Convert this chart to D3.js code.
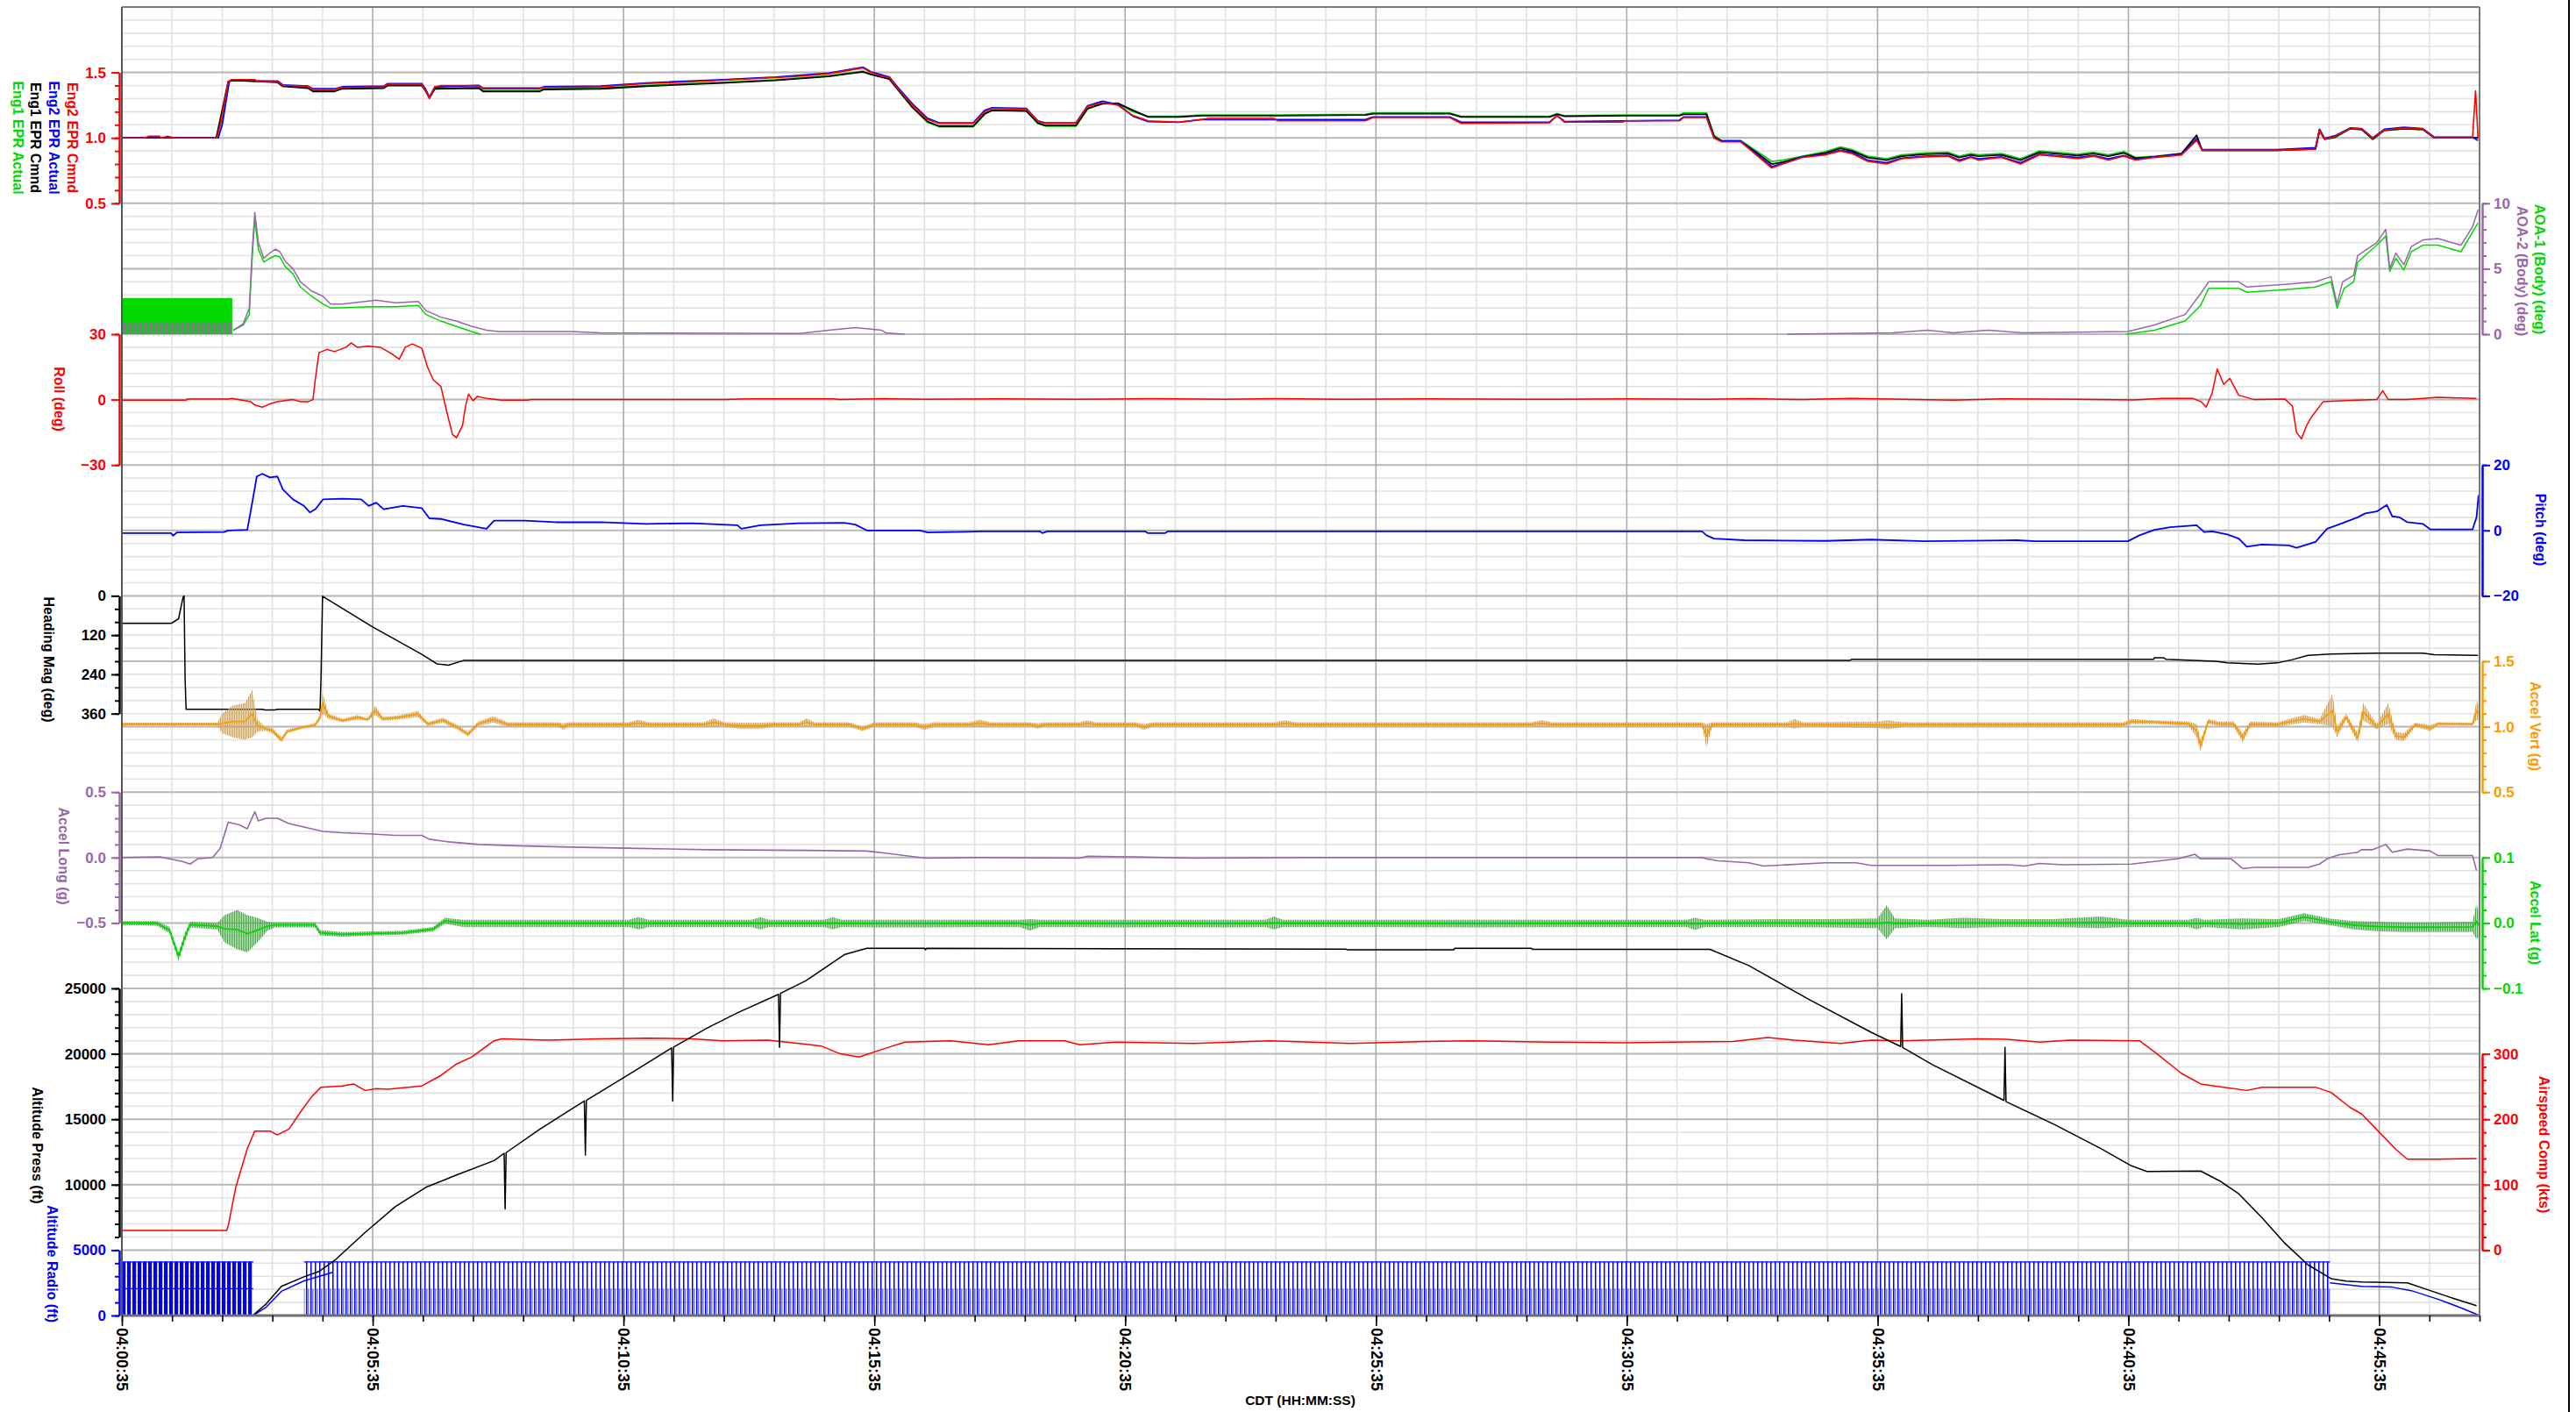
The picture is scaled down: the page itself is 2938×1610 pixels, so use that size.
<!DOCTYPE html>
<html><head><meta charset="utf-8">
<script src="https://cdn.jsdelivr.net/npm/d3@7"></script>
<style>
body{margin:0;background:#fff}
svg{display:block}
text{font-family:"Liberation Sans",Arial,sans-serif;font-weight:bold}
</style>
</head><body>
<svg id="chart" width="2938" height="1610"></svg>
<script>
// ---------------- DATA (time = minutes after 04:00:35) ----------------
const xTickLabels = ["04:00:35","04:05:35","04:10:35","04:15:35","04:20:35","04:25:35","04:30:35","04:35:35","04:40:35","04:45:35"];
const xTickMinutes = [0,5,10,15,20,25,30,35,40,45];
const timeDomain = [0, 47];

const eng2EprCmnd = [[0,1.0],[0.45,1.0],[0.53,1.012],[0.75,1.012],[0.78,1.0],[0.9,1.012],[1.06,1.0],[1.89,1.0],[1.96,1.10],[2.12,1.43],[2.19,1.445],[2.65,1.445],[2.68,1.43],[3.1,1.43],[3.21,1.40],[3.71,1.395],[3.81,1.37],[4.24,1.37],[4.39,1.385],[5.22,1.39],[5.3,1.41],[5.98,1.41],[6.06,1.36],[6.13,1.30],[6.24,1.39],[6.36,1.40],[7.12,1.40],[7.2,1.375],[8.33,1.375],[8.41,1.385],[9.54,1.39],[10.45,1.415],[10.9,1.42],[11.97,1.44],[13.03,1.46],[13.49,1.47],[14.09,1.49],[14.4,1.51],[14.77,1.535],[14.93,1.50],[15.15,1.47],[15.3,1.46],[15.46,1.38],[15.76,1.25],[16.06,1.14],[16.29,1.11],[16.97,1.11],[17.2,1.20],[17.35,1.225],[18.03,1.22],[18.26,1.125],[18.41,1.11],[19.02,1.11],[19.25,1.24],[19.55,1.27],[19.85,1.25],[20.16,1.17],[20.46,1.13],[21.07,1.12],[21.52,1.14],[21.67,1.15],[22.96,1.15],[23.04,1.13],[24.79,1.13],[24.94,1.155],[26.47,1.155],[26.7,1.11],[28.46,1.115],[28.61,1.17],[28.76,1.12],[29.91,1.12],[29.98,1.13],[31.05,1.13],[31.13,1.155],[31.59,1.155],[31.74,1.0],[31.89,0.97],[32.27,0.97],[32.58,0.87],[32.89,0.77],[33.11,0.80],[33.5,0.85],[33.96,0.87],[34.26,0.90],[34.49,0.88],[34.8,0.82],[35.18,0.80],[35.48,0.84],[35.94,0.855],[36.4,0.86],[36.63,0.82],[36.86,0.85],[37.01,0.83],[37.47,0.85],[37.85,0.80],[38.23,0.87],[38.54,0.86],[38.99,0.84],[39.3,0.86],[39.6,0.83],[39.91,0.86],[40.14,0.83],[40.52,0.85],[41.06,0.87],[41.36,0.98],[41.47,0.905],[42.97,0.905],[43.73,0.915],[43.81,1.06],[43.91,0.99],[44.11,1.01],[44.42,1.07],[44.65,1.07],[44.87,0.995],[45.1,1.06],[45.49,1.075],[45.87,1.07],[46.1,1.0],[46.86,1.0],[46.92,1.36],[46.97,1.0]];

const eng2EprActual = [[0,1.0],[1.92,1.0],[2.0,1.1],[2.14,1.43],[2.2,1.445],[2.65,1.445],[2.68,1.435],[3.1,1.435],[3.21,1.405],[3.71,1.395],[3.81,1.375],[4.24,1.375],[4.39,1.39],[5.22,1.395],[5.3,1.415],[5.98,1.415],[6.06,1.37],[6.13,1.31],[6.24,1.39],[7.12,1.40],[7.2,1.38],[8.33,1.38],[8.41,1.39],[9.54,1.395],[10.45,1.42],[11.97,1.445],[13.03,1.465],[14.09,1.495],[14.77,1.54],[14.93,1.505],[15.3,1.465],[15.46,1.39],[15.76,1.26],[16.06,1.15],[16.29,1.115],[16.97,1.115],[17.2,1.21],[17.35,1.23],[18.03,1.225],[18.26,1.13],[18.41,1.115],[19.02,1.115],[19.25,1.245],[19.55,1.28],[19.85,1.255],[20.16,1.165],[20.46,1.125],[21.07,1.12],[21.52,1.14],[23.04,1.14],[24.79,1.14],[24.94,1.16],[26.47,1.16],[26.7,1.12],[28.46,1.12],[28.61,1.17],[28.76,1.125],[31.05,1.135],[31.13,1.16],[31.59,1.16],[31.74,1.0],[31.89,0.975],[32.27,0.975],[32.58,0.88],[32.89,0.78],[33.11,0.805],[33.5,0.855],[33.96,0.875],[34.26,0.905],[34.49,0.89],[34.8,0.83],[35.18,0.81],[35.48,0.845],[35.94,0.86],[36.4,0.865],[36.63,0.83],[36.86,0.855],[37.01,0.84],[37.47,0.855],[37.85,0.81],[38.23,0.875],[38.54,0.865],[38.99,0.85],[39.3,0.865],[39.6,0.84],[39.91,0.865],[40.14,0.835],[40.52,0.855],[41.06,0.875],[41.36,0.99],[41.47,0.91],[42.97,0.91],[43.73,0.925],[43.81,1.065],[43.91,0.995],[44.11,1.015],[44.42,1.075],[44.65,1.07],[44.87,1.0],[45.1,1.065],[45.49,1.08],[45.87,1.07],[46.1,1.005],[46.86,1.005],[46.97,0.98]];

const eng1EprCmnd = [[0,1.0],[1.88,1.0],[1.95,1.12],[2.12,1.43],[2.2,1.44],[3.1,1.425],[3.2,1.395],[3.71,1.38],[3.81,1.355],[4.24,1.355],[4.39,1.375],[5.22,1.38],[5.3,1.40],[5.98,1.40],[6.06,1.355],[6.13,1.305],[6.24,1.375],[7.12,1.38],[7.2,1.355],[8.33,1.355],[8.41,1.37],[9.54,1.375],[10.45,1.395],[11.97,1.42],[13.03,1.44],[14.09,1.47],[14.77,1.505],[14.93,1.485],[15.3,1.45],[15.46,1.375],[15.76,1.235],[16.06,1.125],[16.29,1.09],[16.97,1.09],[17.2,1.185],[17.35,1.21],[18.03,1.205],[18.26,1.115],[18.41,1.095],[19.02,1.095],[19.25,1.225],[19.55,1.26],[19.85,1.265],[20.16,1.21],[20.46,1.16],[21.07,1.16],[21.52,1.17],[23.04,1.17],[24.79,1.175],[24.94,1.185],[26.47,1.185],[26.7,1.16],[28.46,1.16],[28.61,1.18],[28.76,1.165],[29.98,1.17],[31.05,1.17],[31.13,1.18],[31.59,1.18],[31.74,1.01],[31.89,0.975],[32.27,0.975],[32.58,0.89],[32.89,0.80],[33.11,0.815],[33.5,0.855],[33.96,0.885],[34.26,0.92],[34.49,0.90],[34.8,0.85],[35.18,0.83],[35.48,0.86],[35.94,0.875],[36.4,0.88],[36.63,0.85],[36.86,0.87],[37.01,0.86],[37.47,0.87],[37.85,0.83],[38.23,0.89],[38.54,0.88],[38.99,0.865],[39.3,0.88],[39.6,0.86],[39.91,0.885],[40.14,0.845],[40.52,0.855],[41.06,0.88],[41.36,1.02],[41.47,0.905],[42.97,0.905],[43.73,0.915],[43.81,1.06],[43.91,0.99],[44.11,1.005],[44.42,1.07],[44.65,1.065],[44.87,0.99],[45.1,1.06],[45.49,1.07],[45.87,1.065],[46.1,1.0],[46.97,1.0]];

const eng1EprActual = [[0,1.0],[1.89,1.0],[1.98,1.12],[2.14,1.43],[2.2,1.44],[3.1,1.43],[3.2,1.40],[3.71,1.385],[3.81,1.36],[4.24,1.36],[4.39,1.38],[5.22,1.385],[5.3,1.405],[5.98,1.405],[6.06,1.36],[6.13,1.31],[6.24,1.38],[7.12,1.385],[7.2,1.36],[8.33,1.36],[8.41,1.375],[9.54,1.38],[10.45,1.40],[11.97,1.425],[13.03,1.445],[14.09,1.475],[14.77,1.51],[14.93,1.49],[15.3,1.45],[15.46,1.37],[15.76,1.23],[16.06,1.12],[16.29,1.085],[16.97,1.085],[17.2,1.18],[17.35,1.215],[18.03,1.21],[18.26,1.11],[18.41,1.09],[19.02,1.09],[19.25,1.22],[19.55,1.265],[19.85,1.26],[20.16,1.20],[20.46,1.165],[21.07,1.165],[21.52,1.175],[23.04,1.175],[24.79,1.18],[24.94,1.19],[26.47,1.19],[26.7,1.165],[28.46,1.165],[28.61,1.185],[28.76,1.17],[29.98,1.175],[31.05,1.175],[31.13,1.19],[31.59,1.19],[31.74,1.02],[31.89,0.98],[32.27,0.98],[32.58,0.90],[32.89,0.82],[33.11,0.83],[33.5,0.86],[33.96,0.895],[34.26,0.93],[34.49,0.91],[34.8,0.86],[35.18,0.84],[35.48,0.87],[35.94,0.885],[36.4,0.89],[36.63,0.86],[36.86,0.88],[37.01,0.87],[37.47,0.88],[37.85,0.84],[38.23,0.90],[38.54,0.89],[38.99,0.875],[39.3,0.89],[39.6,0.87],[39.91,0.895],[40.14,0.85],[40.52,0.86],[41.06,0.88],[41.36,1.0],[41.47,0.905],[42.97,0.905],[43.73,0.915],[43.81,1.05],[43.91,0.99],[44.11,1.0],[44.42,1.07],[44.65,1.065],[44.87,0.99],[45.1,1.055],[45.49,1.07],[45.87,1.065],[46.1,1.0],[46.97,1.0]];

// AOA (deg); null = no valid sample drawn
const aoa1 = [[2.22,0.3],[2.42,0.7],[2.54,1.5],[2.6,6.0],[2.65,8.8],[2.72,6.5],[2.83,5.5],[2.95,5.8],[3.06,6.0],[3.15,5.9],[3.25,5.2],[3.41,4.6],[3.56,3.6],[3.78,2.9],[4.01,2.3],[4.16,2.0],[5.0,2.1],[5.45,2.1],[5.91,2.2],[6.06,1.5],[6.36,1.0],[6.66,0.6],[6.97,0.2],[7.15,0],[7.3,null],[39.95,0],[40.52,0.3],[41.13,1.0],[41.44,2.2],[41.6,3.5],[42.2,3.5],[42.36,3.2],[43.12,3.4],[43.73,3.6],[44.04,4.0],[44.16,2.0],[44.3,3.5],[44.49,4.0],[44.57,5.5],[44.95,6.8],[45.13,7.5],[45.21,4.8],[45.33,5.8],[45.49,4.9],[45.64,6.3],[45.87,6.8],[46.17,6.8],[46.63,6.3],[46.86,7.8],[46.97,8.5]];
const aoa2 = [[2.22,0.3],[2.42,0.8],[2.54,2.0],[2.6,6.5],[2.65,9.3],[2.72,7.0],[2.83,5.8],[2.95,6.2],[3.06,6.5],[3.15,6.3],[3.25,5.6],[3.41,5.0],[3.56,4.0],[3.78,3.3],[4.01,2.9],[4.16,2.3],[4.39,2.3],[5.07,2.6],[5.45,2.4],[5.91,2.5],[6.06,1.8],[6.36,1.3],[6.66,1.0],[6.97,0.6],[7.27,0.3],[7.5,0.2],[8.94,0.2],[9.54,0.1],[13.5,0.05],[14.1,0.3],[14.62,0.5],[15.15,0.3],[15.23,0.1],[15.6,0],[15.7,null],[33.2,0],[35.3,0.1],[36.0,0.3],[36.5,0.1],[37.2,0.3],[37.9,0.1],[39.99,0.2],[40.52,0.7],[41.13,1.5],[41.44,3.1],[41.6,4.0],[42.2,4.0],[42.36,3.6],[43.12,3.8],[43.73,4.0],[44.04,4.4],[44.16,2.3],[44.27,4.0],[44.49,4.5],[44.57,6.0],[44.95,7.0],[45.13,8.0],[45.21,5.0],[45.33,6.2],[45.49,5.3],[45.64,6.7],[45.87,7.2],[46.17,7.3],[46.63,6.8],[46.86,8.2],[46.97,9.5]];
// ground AOA sensor toggling range: [t0, t1, lo, hi]
const aoa1GroundRange = [0, 2.2, 0, 2.75];
const aoa2GroundRange = [0, 2.2, 0, 0.9];

const roll = [[0,-0.3],[1.28,-0.3],[1.3,0.2],[2.12,0.2],[2.19,0.5],[2.57,-1],[2.65,-2.5],[2.8,-3.5],[2.95,-2],[3.1,-1],[3.41,0],[3.56,-1],[3.71,-1],[3.81,0],[3.86,10],[3.93,21.5],[4.09,23],[4.24,22],[4.47,24],[4.57,26],[4.69,24],[4.92,24.5],[5.15,24],[5.38,21],[5.53,18.5],[5.65,24],[5.79,25.5],[5.98,23.5],[6.09,15],[6.21,9],[6.36,6],[6.47,-5],[6.59,-16],[6.67,-17.5],[6.79,-12],[6.85,-3],[6.91,2.5],[7.0,-0.5],[7.09,1.5],[7.27,0.5],[7.57,-0.3],[8.1,-0.3],[8.15,0],[12,0],[12.5,0.3],[14.2,0.3],[14.3,0],[15.2,0.4],[16.0,0.1],[17.5,0.3],[19.0,0.1],[20.5,0.4],[22.0,0.1],[23.0,0.4],[24.5,0.1],[26.0,0.3],[28.0,0.1],[30.0,0.3],[31.6,0.1],[32.5,0.4],[33.5,0],[34.5,0.5],[35.5,0.1],[36.5,-0.3],[37.5,0.3],[39.0,0.1],[40.1,-0.2],[40.68,0.5],[41.29,0.5],[41.45,-1],[41.55,-3.5],[41.67,3],[41.77,14],[41.9,7],[42.02,9.7],[42.2,2],[42.51,0],[43.12,0.2],[43.27,-3],[43.35,-15],[43.45,-18],[43.55,-12],[43.65,-8],[43.88,-1],[44.34,-0.5],[44.95,0],[45.07,4],[45.18,0],[45.56,0],[46.17,1],[46.94,0.5]];

const pitch = [[0,-0.8],[0.98,-0.8],[1.02,-1.6],[1.1,-0.6],[2.04,-0.5],[2.12,0],[2.5,0.2],[2.57,6],[2.69,16.5],[2.8,17.3],[2.95,16.2],[3.1,16.5],[3.21,12.5],[3.41,9.5],[3.63,7.5],[3.75,5.5],[3.86,6.5],[4.01,9.5],[4.39,9.7],[4.77,9.5],[4.92,7.5],[5.07,8.5],[5.22,6.5],[5.6,7.5],[5.98,6.8],[6.13,3.7],[6.36,3.5],[6.82,1.8],[7.27,0.5],[7.42,3.0],[8.03,3.0],[8.64,2.5],[9.54,2.5],[10.45,2.0],[11.36,2.2],[12.27,1.6],[12.35,0.5],[12.73,1.6],[13.49,2.2],[14.4,2.3],[14.62,1.8],[14.85,0],[15.91,0],[16.06,-0.6],[16.82,-0.4],[17.12,-0.3],[18.3,-0.3],[18.35,-0.8],[18.45,-0.3],[20.4,-0.3],[20.45,-0.8],[20.8,-0.8],[20.85,-0.3],[31.5,-0.3],[31.59,-1.5],[31.74,-2.5],[32.35,-3.0],[33.96,-3.2],[34.87,-2.8],[35.94,-3.3],[37.77,-3.0],[38.15,-3.3],[39.99,-3.3],[40.22,-1.5],[40.52,0.2],[40.83,1.0],[41.36,1.6],[41.51,-0.5],[41.67,-0.3],[41.97,-1.2],[42.2,-2.5],[42.36,-5.0],[42.66,-4.3],[43.2,-4.6],[43.35,-5.3],[43.73,-3.5],[43.96,0.5],[44.19,1.8],[44.57,4.0],[44.72,5.2],[44.95,5.8],[45.15,7.8],[45.26,4.3],[45.41,4.0],[45.56,2.5],[45.87,2.0],[46.02,0.3],[46.86,0.3],[46.94,4],[46.98,10.8]];

const headingMag = [[0,84],[0.98,84],[1.03,80],[1.13,70],[1.22,4],[1.24,0.5],[1.26,250],[1.28,347],[2.8,347],[2.85,349],[3.05,349],[3.1,347],[3.92,347],[3.95,352],[3.97,250],[4.0,1],[5.0,95],[5.98,179],[6.28,208],[6.51,212],[6.82,197],[34.45,197],[34.49,194],[40.5,194],[40.52,189],[40.7,189],[40.75,194],[41.74,200],[41.97,205],[42.58,209],[42.97,205],[43.27,195],[43.58,182],[44.04,178],[44.95,175],[45.87,175],[46.1,180],[46.97,182]];

// noisy accelerations: envelope [t, low, high]
const accelVertRange = [[0,1.008,1.03],[1.3,1.008,1.03],[1.9,1.008,1.03],[2.0,0.95,1.1],[2.2,0.92,1.16],[2.45,0.9,1.18],[2.6,0.92,1.28],[2.7,0.96,1.06],[2.85,0.97,1.0],[3.0,0.95,0.99],[3.18,0.88,0.92],[3.3,0.95,0.98],[3.6,0.985,1.005],[3.85,1.0,1.025],[3.95,1.05,1.09],[4.0,1.1,1.26],[4.12,1.06,1.1],[4.4,1.035,1.06],[4.7,1.055,1.09],[4.9,1.045,1.065],[5.05,1.09,1.16],[5.2,1.045,1.075],[5.5,1.055,1.085],[5.9,1.075,1.12],[6.1,1.005,1.035],[6.4,1.03,1.07],[6.7,0.975,1.01],[6.9,0.925,0.96],[7.1,1.005,1.04],[7.4,1.03,1.08],[7.7,1.0,1.035],[8.5,1.0,1.035],[8.7,1.0,1.035],[8.8,0.975,1.025],[8.9,1.0,1.035],[10.1,1.0,1.035],[10.3,1.0,1.055],[10.5,1.0,1.035],[11.6,1.0,1.035],[11.8,1.0,1.065],[12.0,1.0,1.035],[12.3,0.985,1.03],[12.75,0.985,1.03],[13.0,1.0,1.035],[13.5,1.0,1.035],[13.65,1.0,1.065],[13.8,1.0,1.035],[14.5,1.0,1.035],[14.77,0.965,1.0],[15.0,1.0,1.035],[15.8,1.0,1.035],[16.0,0.975,1.02],[16.2,1.0,1.035],[16.9,1.0,1.035],[17.1,1.0,1.055],[17.3,1.0,1.035],[18.1,1.0,1.035],[18.26,0.985,1.025],[18.4,1.0,1.035],[19.1,1.0,1.035],[19.25,1.0,1.05],[19.4,1.0,1.035],[20.2,1.0,1.035],[20.38,0.975,1.02],[20.55,1.0,1.035],[23.0,1.0,1.035],[23.2,1.0,1.05],[23.4,1.0,1.035],[28.1,1.0,1.035],[28.3,1.0,1.05],[28.5,1.0,1.035],[31.5,1.0,1.035],[31.59,0.84,1.02],[31.7,1.0,1.035],[33.2,1.0,1.035],[33.35,0.985,1.06],[33.5,1.0,1.035],[35.0,0.99,1.04],[35.2,0.98,1.05],[35.4,0.99,1.04],[35.6,1.0,1.035],[39.9,1.0,1.035],[40.06,1.02,1.06],[40.5,1.02,1.05],[41.2,1.005,1.04],[41.36,0.92,1.02],[41.44,0.81,0.9],[41.59,1.02,1.06],[41.8,1.005,1.04],[42.1,1.0,1.04],[42.28,0.88,0.95],[42.43,1.0,1.04],[42.97,1.0,1.035],[43.5,1.03,1.09],[43.81,1.02,1.06],[44.07,1.0,1.25],[44.16,0.92,1.0],[44.34,1.05,1.1],[44.57,0.88,0.95],[44.68,1.05,1.18],[44.95,0.98,1.02],[45.18,1.02,1.18],[45.33,0.9,0.96],[45.49,0.89,0.95],[45.72,1.0,1.03],[46.02,0.965,1.01],[46.17,1.01,1.035],[46.86,1.01,1.03],[46.94,1.05,1.2],[47,1.05,1.15]];

const accelLong = [[0,0],[0.75,0.005],[1.21,-0.03],[1.36,-0.05],[1.51,-0.01],[1.81,0],[1.96,0.07],[2.12,0.27],[2.34,0.25],[2.5,0.22],[2.65,0.35],[2.72,0.28],[2.88,0.3],[3.1,0.3],[3.33,0.26],[3.78,0.22],[4.01,0.2],[4.39,0.19],[5.0,0.18],[5.45,0.17],[5.98,0.17],[6.13,0.14],[6.51,0.12],[7.12,0.1],[7.88,0.09],[8.94,0.08],[10.3,0.07],[11.67,0.06],[13.64,0.055],[14.85,0.05],[15.3,0.03],[15.91,0],[16.06,-0.005],[17.12,0],[19.1,-0.005],[19.25,0.01],[20.16,0.005],[21.37,-0.005],[23.6,0],[31.5,0],[31.59,-0.01],[31.82,-0.025],[32.43,-0.04],[32.73,-0.065],[33.96,-0.04],[34.57,-0.04],[34.87,-0.06],[36.4,-0.06],[37.62,-0.055],[37.92,-0.065],[38.23,-0.045],[38.69,-0.055],[40.06,-0.05],[40.98,-0.01],[41.33,0.025],[41.44,-0.01],[42.05,-0.01],[42.28,-0.085],[42.51,-0.075],[43.58,-0.075],[43.81,-0.05],[43.96,-0.01],[44.19,0.02],[44.57,0.04],[44.65,0.06],[44.87,0.06],[45.13,0.1],[45.26,0.04],[45.56,0.065],[46.02,0.05],[46.17,0.015],[46.86,0.015],[46.94,-0.1]];

const accelLatRange = [[0,-0.003,0.003],[0.7,-0.004,0.003],[0.95,-0.016,-0.006],[1.13,-0.058,-0.045],[1.25,-0.03,-0.016],[1.36,-0.007,0.002],[1.9,-0.01,0.0],[2.05,-0.03,0.012],[2.3,-0.04,0.02],[2.5,-0.045,0.012],[2.7,-0.03,0.008],[2.9,-0.012,0.002],[3.05,-0.007,0.001],[3.85,-0.007,0.001],[3.95,-0.019,-0.011],[4.4,-0.021,-0.014],[5.0,-0.019,-0.013],[5.6,-0.018,-0.012],[6.2,-0.013,-0.006],[6.44,-0.001,0.008],[6.8,-0.006,0.005],[7.5,-0.006,0.005],[8.5,-0.006,0.005],[10.1,-0.006,0.005],[10.3,-0.01,0.009],[10.5,-0.006,0.005],[11.5,-0.006,0.005],[12.55,-0.006,0.005],[12.73,-0.01,0.009],[12.9,-0.006,0.005],[14.0,-0.006,0.005],[14.17,-0.01,0.009],[14.35,-0.006,0.005],[15.0,-0.007,0.005],[16.0,-0.007,0.005],[17.0,-0.006,0.005],[17.9,-0.006,0.005],[18.1,-0.012,0.006],[18.3,-0.006,0.005],[19.0,-0.006,0.005],[20.0,-0.007,0.005],[21.0,-0.006,0.005],[22.0,-0.007,0.005],[22.8,-0.006,0.005],[22.96,-0.01,0.01],[23.15,-0.006,0.005],[25.0,-0.006,0.005],[27.0,-0.007,0.005],[29.0,-0.006,0.005],[31.2,-0.006,0.005],[31.36,-0.011,0.008],[31.55,-0.006,0.005],[33.0,-0.006,0.006],[34.0,-0.007,0.006],[35.0,-0.008,0.007],[35.18,-0.025,0.027],[35.35,-0.008,0.007],[36.0,-0.006,0.005],[36.7,-0.008,0.008],[37.5,-0.006,0.006],[38.5,-0.006,0.006],[39.45,-0.008,0.01],[40.0,-0.006,0.005],[41.2,-0.006,0.005],[41.36,-0.01,0.008],[41.5,-0.006,0.005],[42.28,-0.01,0.007],[43.0,-0.006,0.006],[43.5,0.003,0.015],[44.0,-0.003,0.007],[44.5,-0.01,0.003],[45.0,-0.013,0.002],[45.5,-0.014,0.001],[46.0,-0.014,0.001],[46.86,-0.014,0.002],[46.94,-0.025,0.03],[47,-0.02,0.01]];

const altitudePress = [[2.62,50],[2.88,900],[3.18,2230],[3.63,2960],[3.94,3390],[4.24,4210],[4.85,6350],[5.45,8320],[6.06,9800],[6.66,10720],[7.42,11840],[7.62,12400],[7.64,8150],[7.66,12450],[8.33,14240],[9.22,16400],[9.24,12270],[9.26,16450],[10.15,18520],[10.96,20450],[10.98,16380],[11.0,20520],[11.67,21980],[12.27,23130],[13.09,24550],[13.11,20500],[13.13,24620],[13.64,25600],[14.4,27580],[14.85,28070],[16.0,28070],[16.02,27950],[16.04,28070],[24.4,28000],[24.42,27950],[24.9,27950],[26.55,27950],[26.57,28060],[28.1,28060],[28.12,27980],[31.66,27980],[32.43,26750],[33.65,24120],[34.87,21650],[35.46,20560],[35.48,24600],[35.5,20480],[36.09,19180],[37.52,16440],[37.54,20500],[37.56,16350],[38.54,14570],[39.45,12760],[40.06,11440],[40.37,11010],[41.44,11040],[41.82,10290],[42.2,9300],[42.66,7490],[43.12,5520],[43.58,3870],[44.04,2820],[44.34,2630],[44.65,2560],[45.56,2500],[46.02,1900],[46.48,1310],[46.94,750]];

const airspeedComp = [[0,30],[2.09,30],[2.12,37],[2.27,96],[2.5,155],[2.65,182],[2.95,182],[3.1,176],[3.33,185],[3.56,211],[3.78,234],[3.97,249],[4.39,251],[4.62,254],[4.85,244],[5.07,247],[5.3,246],[5.98,251],[6.36,267],[6.66,284],[6.97,295],[7.42,320],[7.57,323],[8.48,321],[9.54,323],[10.45,324],[11.36,323],[11.97,320],[12.88,321],[13.49,316],[13.94,312],[14.32,300],[14.7,295],[15.0,303],[15.61,318],[16.52,320],[17.28,314],[17.88,320],[18.79,320],[19.1,314],[19.85,318],[21.37,316],[22.88,320],[24.49,316],[26.01,319],[26.93,320],[28.46,318],[29.98,317],[30.9,318],[32.12,319],[32.81,325],[33.34,321],[34.26,316],[34.87,321],[35.48,320],[37.01,323],[37.62,322],[38.23,318],[38.84,321],[40.22,320],[40.52,303],[41.06,270],[41.44,254],[41.9,249],[42.36,244],[42.66,249],[43.73,249],[44.04,241],[44.42,218],[44.65,208],[45.03,178],[45.33,154],[45.56,139],[46.17,139],[46.94,140]];

// radio altitude: invalid toggling intervals [t0, t1, max ft] and valid readings
const radioToggleDense = [0, 2.62, 4100];
const radioToggleSparse = [3.63, 44.02, 4100];
const radioAltClimb = [[2.62,0],[2.88,650],[3.18,1850],[3.63,2650],[3.94,3000],[4.2,3300]];
const radioAltLanding = [[44.02,2500],[44.65,2230],[45.26,2170],[45.64,1900],[46.17,1250],[46.63,590],[46.97,50]];

// ---------------- LAYOUT ----------------
const W = 2938, Hh = 1610;
const PL = 139, PR = 2828, PT = 8, PB = 1500;
const NB = 20, BH = (PB - PT) / NB;
const band = k => PT + k * BH;

const C = {red:"#ff0000", blue:"#0000ff", green:"#00d800", black:"#000000", purple:"#9966aa", orange:"#ff9a00"};

const svg = d3.select("#chart");
const x = d3.scaleLinear().domain(timeDomain).range([PL, PR]);

const yEpr = d3.scaleLinear().domain([0.5,1.5]).range([band(3), band(1)]);
const yAoa = d3.scaleLinear().domain([0,10]).range([band(5), band(3)]);
const yRoll = d3.scaleLinear().domain([-30,30]).range([band(7), band(5)]);
const yPitch = d3.scaleLinear().domain([-20,20]).range([band(9), band(7)]);
const yHdg = d3.scaleLinear().domain([0,400]).range([band(9), band(11)]);
const yVert = d3.scaleLinear().domain([0.5,1.5]).range([band(12), band(10)]);
const yLong = d3.scaleLinear().domain([-0.5,0.5]).range([band(14), band(12)]);
const yLat = d3.scaleLinear().domain([-0.1,0.1]).range([band(15), band(13)]);
const yAlt = d3.scaleLinear().domain([0,25000]).range([band(20), band(15)]);
const yAs = d3.scaleLinear().domain([0,300]).range([band(19), band(16)]);

// ---------------- GRID ----------------
const grid = svg.append("g");
const minorYs = d3.range(0, NB*5+1).map(i => PT + i*BH/5);
grid.selectAll(".hm").data(minorYs).join("line")
  .attr("x1", PL).attr("x2", PR).attr("y1", d=>d).attr("y2", d=>d)
  .attr("stroke", "#e2e2e2").attr("stroke-width", 1.6);
const minutes = d3.range(0, 48);
grid.selectAll(".vm").data(minutes.filter(m => m%5 !== 0)).join("line")
  .attr("x1", d=>x(d)).attr("x2", d=>x(d)).attr("y1", PT).attr("y2", PB)
  .attr("stroke", "#e2e2e2").attr("stroke-width", 1.6);
grid.selectAll(".hM").data(d3.range(0, NB+1).map(band)).join("line")
  .attr("x1", PL).attr("x2", PR).attr("y1", d=>d).attr("y2", d=>d)
  .attr("stroke", "#b9b9b9").attr("stroke-width", 2);
grid.selectAll(".vM").data(xTickMinutes.filter(m => m>0)).join("line")
  .attr("x1", d=>x(d)).attr("x2", d=>x(d)).attr("y1", PT).attr("y2", PB)
  .attr("stroke", "#ababab").attr("stroke-width", 1.6);

// ---------------- DEFS (hatch patterns for toggling / noisy signals) ----------------
const defs = svg.append("defs");
function stripePattern(id, period, offset, width, color) {
  const p = defs.append("pattern").attr("id", id).attr("patternUnits","userSpaceOnUse")
    .attr("width", period).attr("height", 10).attr("x", PL);
  p.append("rect").attr("x", offset).attr("y", 0).attr("width", width).attr("height", 10).attr("fill", color);
}
stripePattern("radDense", 6, 0, 4.2, C.blue);
stripePattern("radSparse", 5, 0, 1.5, C.blue);
stripePattern("radSparse2", 5, 2.5, 0.8, C.blue);
stripePattern("aoaStripe", 3, 0, 1.5, C.purple);
stripePattern("noiseOrange", 2, 0, 1.3, C.orange);
stripePattern("noiseGreen", 2, 0, 1.3, C.green);

defs.append("clipPath").attr("id","plotClip").append("rect")
  .attr("x", PL).attr("y", PT).attr("width", PR-PL).attr("height", PB-PT);

const plot = svg.append("g").attr("clip-path","url(#plotClip)");

function drawLine(data, yS, color, w) {
  const ln = d3.line().defined(d => d[1] !== null).x(d => x(d[0])).y(d => yS(d[1]));
  plot.append("path").datum(data).attr("d", ln).attr("fill","none")
    .attr("stroke", color).attr("stroke-width", w || 1.6).attr("stroke-linejoin","round");
}
function drawRange(data, yS, color, patternId) {
  const ar = d3.area().x(d => x(d[0])).y0(d => yS(d[1])).y1(d => yS(d[2]));
  plot.append("path").datum(data).attr("d", ar).attr("fill", `url(#${patternId})`)
    .attr("stroke", "none");
  const mid = d3.line().x(d => x(d[0])).y(d => yS((d[1] + d[2]) / 2));
  plot.append("path").datum(data).attr("d", mid).attr("fill", "none")
    .attr("stroke", color).attr("stroke-width", 1.8).attr("stroke-linejoin","round");
}

// ---------------- SERIES ----------------
drawLine(eng1EprActual, yEpr, C.green, 1.8);
drawLine(eng1EprCmnd, yEpr, C.black, 1.8);
drawLine(eng2EprActual, yEpr, C.blue, 1.8);
drawLine(eng2EprCmnd, yEpr, C.red, 1.6);

plot.append("rect").attr("x", x(aoa1GroundRange[0])).attr("width", x(aoa1GroundRange[1]) - x(aoa1GroundRange[0]))
  .attr("y", yAoa(aoa1GroundRange[3])).attr("height", yAoa(aoa1GroundRange[2]) - yAoa(aoa1GroundRange[3]))
  .attr("fill", C.green);
plot.append("rect").attr("x", x(aoa2GroundRange[0])).attr("width", x(aoa2GroundRange[1]) - x(aoa2GroundRange[0]))
  .attr("y", yAoa(aoa2GroundRange[3])).attr("height", yAoa(aoa2GroundRange[2]) - yAoa(aoa2GroundRange[3]))
  .attr("fill", "url(#aoaStripe)");
drawLine(aoa1, yAoa, C.green, 1.5);
drawLine(aoa2, yAoa, C.purple, 1.5);

drawLine(roll, yRoll, C.red, 1.5);
drawLine(pitch, yPitch, C.blue, 1.8);
drawLine(headingMag, yHdg, C.black, 1.5);
drawRange(accelVertRange, yVert, C.orange, "noiseOrange");
drawLine(accelLong, yLong, C.purple, 1.6);
drawRange(accelLatRange, yLat, C.green, "noiseGreen");

function toggleBand(b, fill, top) {
  plot.append("rect").attr("x", x(b[0])).attr("width", x(b[1]) - x(b[0]))
    .attr("y", yAlt(top)).attr("height", yAlt(0) - yAlt(top)).attr("fill", fill);
}
toggleBand(radioToggleDense, "url(#radDense)", radioToggleDense[2]);
toggleBand(radioToggleSparse, "url(#radSparse)", radioToggleSparse[2]);
toggleBand(radioToggleSparse, "url(#radSparse2)", radioToggleSparse[2] / 2);
[radioToggleDense, radioToggleSparse].forEach(b => {
  plot.append("line").attr("x1", x(b[0])).attr("x2", x(b[1])).attr("y1", yAlt(b[2])).attr("y2", yAlt(b[2]))
    .attr("stroke", C.blue).attr("stroke-width", 1.4);
});
plot.append("line").attr("x1", x(radioToggleDense[0])).attr("x2", x(radioToggleDense[1]))
  .attr("y1", yAlt(radioToggleDense[2]/2)).attr("y2", yAlt(radioToggleDense[2]/2))
  .attr("stroke", C.blue).attr("stroke-width", 1.4);
drawLine(radioAltClimb, yAlt, C.blue, 1.5);
drawLine(radioAltLanding, yAlt, C.blue, 1.5);

drawLine(airspeedComp, yAs, C.red, 1.5);
drawLine(altitudePress, yAlt, C.black, 1.5);

// ---------------- PLOT FRAME ----------------
svg.append("line").attr("x1", PL).attr("x2", PR).attr("y1", PT).attr("y2", PT).attr("stroke", "#7a7a7a").attr("stroke-width", 2);
svg.append("line").attr("x1", PL).attr("x2", PL).attr("y1", PT).attr("y2", PB).attr("stroke", "#555").attr("stroke-width", 2);
svg.append("line").attr("x1", PR).attr("x2", PR).attr("y1", PT).attr("y2", PB).attr("stroke", "#777").attr("stroke-width", 2);
svg.append("line").attr("x1", PL).attr("x2", PR).attr("y1", PB).attr("y2", PB).attr("stroke", "#6e6e6e").attr("stroke-width", 3);
svg.append("line").attr("x1", 2930).attr("x2", 2930).attr("y1", 0).attr("y2", Hh).attr("stroke", "#000").attr("stroke-width", 2);

// ---------------- AXES ----------------
function yAxis(side, scale, lo, hi, majors, minorStep, color, fmt) {
  const ax = side === "left" ? PL - 3 : PR + 3;
  const s = d3.scaleLinear().domain([lo, hi]).range([scale(lo), scale(hi)]);
  const af = side === "left" ? d3.axisLeft : d3.axisRight;
  const n = Math.round((hi - lo) / minorStep);
  const minors = d3.range(0, n + 1).map(i => +(lo + i * minorStep).toFixed(6));
  const g1 = svg.append("g").attr("transform", `translate(${ax},0)`)
    .call(af(s).tickValues(minors).tickSize(5).tickSizeOuter(0).tickFormat(""));
  const g2 = svg.append("g").attr("transform", `translate(${ax},0)`)
    .call(af(s).tickValues(majors).tickSize(9).tickSizeOuter(0).tickPadding(side === "left" ? 6 : 4).tickFormat(fmt));
  [g1, g2].forEach(g => {
    g.select(".domain").attr("stroke", color).attr("stroke-width", 2);
    g.selectAll(".tick line").attr("stroke", color).attr("stroke-width", 2);
  });
  g2.selectAll(".tick text").attr("fill", color)
    .attr("font-size", 17).attr("font-family", '"Liberation Sans", Arial, sans-serif').attr("font-weight", "bold");
}
const f1 = d3.format(".1f"), f0 = d3.format("d");
yAxis("left", yEpr, 0.5, 1.5, [0.5,1.0,1.5], 0.1, C.red, f1);
yAxis("right", yAoa, 0, 10, [0,5,10], 1, C.purple, f0);
yAxis("left", yRoll, -30, 30, [-30,0,30], 60, C.red, f0);
yAxis("right", yPitch, -20, 20, [-20,0,20], 40, C.blue, f0);
yAxis("left", yHdg, 0, 360, [0,120,240,360], 40, C.black, f0);
yAxis("right", yVert, 0.5, 1.5, [0.5,1.0,1.5], 0.1, C.orange, f1);
yAxis("left", yLong, -0.5, 0.5, [-0.5,0.0,0.5], 0.1, C.purple, f1);
yAxis("right", yLat, -0.1, 0.1, [-0.1,0.0,0.1], 0.02, C.green, f1);
yAxis("left", yAlt, 6000, 25000, [10000,15000,20000,25000], 1000, C.black, f0);
yAxis("left", yAlt, 0, 5000, [0,5000], 1000, C.blue, f0);
yAxis("right", yAs, 0, 300, [0,100,200,300], 20, C.red, f0);

const xMinor = svg.append("g").attr("transform", `translate(0,${PB})`)
  .call(d3.axisBottom(x).tickValues(minutes).tickSize(7).tickSizeOuter(0).tickFormat(""));
const xMajor = svg.append("g").attr("transform", `translate(0,${PB})`)
  .call(d3.axisBottom(x).tickValues(xTickMinutes).tickSize(12).tickSizeOuter(0).tickFormat((d,i) => xTickLabels[i]));
[xMinor, xMajor].forEach(g => {
  g.select(".domain").remove();
  g.selectAll(".tick line").attr("stroke", "#000").attr("stroke-width", 1.6);
});
xMajor.selectAll(".tick text")
  .attr("transform", "translate(0,14) rotate(90)").attr("x", 0).attr("y", 0).attr("dy", "0.35em")
  .attr("text-anchor", "start").attr("fill", "#000")
  .attr("font-size", 18).attr("font-family", '"Liberation Sans", Arial, sans-serif').attr("font-weight", "bold");

svg.append("text").attr("x", 1483).attr("y", 1602).attr("text-anchor", "middle")
  .attr("font-size", 15.5).attr("fill", "#000").text("CDT (HH:MM:SS)");

// ---------------- AXIS TITLES (rotated) ----------------
function vtext(cx, cy, str, color, size) {
  svg.append("text").attr("transform", `translate(${cx},${cy}) rotate(90)`)
    .attr("text-anchor", "middle").attr("dominant-baseline", "central")
    .attr("font-size", size || 16).attr("fill", color).text(str);
}
vtext(20, 157, "Eng1 EPR Actual", C.green);
vtext(40, 157, "Eng1 EPR Cmnd", C.black);
vtext(61, 157, "Eng2 EPR Actual", C.blue);
vtext(82, 157, "Eng2 EPR Cmnd", C.red);
vtext(2896, 307, "AOA-1 (Body) (deg)", C.green);
vtext(2876, 309, "AOA-2 (Body) (deg)", C.purple);
vtext(67, 455, "Roll (deg)", C.red);
vtext(2897, 604, "Pitch (deg)", C.blue);
vtext(55, 752, "Heading Mag (deg)", C.black);
vtext(2891, 828, "Accel Vert (g)", C.orange);
vtext(72, 976, "Accel Long (g)", C.purple);
vtext(2891, 1052, "Accel Lat (g)", C.green);
vtext(42, 1306, "Altitude Press (ft)", C.black);
vtext(59, 1441, "Altitude Radio (ft)", C.blue);
vtext(2901, 1305, "Airspeed Comp (kts)", C.red);
</script>
</body></html>
